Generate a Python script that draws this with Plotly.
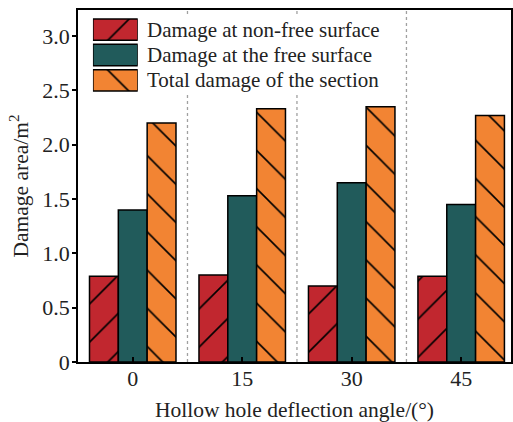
import plotly.graph_objects as go

# ---- data ----
angles = ["0", "15", "30", "45"]
series_names = ["Damage at non-free surface", "Damage at the free surface", "Total damage of the section"]
non_free = [0.79, 0.80, 0.70, 0.79]
free = [1.40, 1.53, 1.65, 1.45]
total = [2.20, 2.33, 2.35, 2.27]
y_tick_vals = [0, 0.5, 1.0, 1.5, 2.0, 2.5, 3.0]
y_tick_text = ["0", "0.5", "1.0", "1.5", "2.0", "2.5", "3.0"]

colors = ["#C1272F", "#215B5B", "#F28433"]
patterns = ["/", "", "\\"]
values = [non_free, free, total]

FONT = "Times New Roman, Liberation Serif, serif"
W, H = 513, 422
L, R, T, B = 78, 0, 10, 60
plot_w = W - L - R
plot_h = H - T - B

def px_x(p):
    return (p - L) / plot_w

def px_y(p):
    return (H - B - p) / plot_h

fig = go.Figure()
for name, vals, c, pat in zip(series_names, values, colors, patterns):
    fig.add_trace(go.Bar(
        x=angles, y=vals, name=name, showlegend=False,
        marker=dict(color=c, line=dict(color="black", width=1.5),
                    pattern=dict(shape=pat, fgcolor="black", fgopacity=1, bgcolor=c, size=27, solidity=0.06)),
    ))

# manual legend keys (large swatches) on an overlay subplot
for i, (c, pat) in enumerate(zip(colors, patterns)):
    fig.add_trace(go.Bar(
        y=[i], x=[1], orientation="h", xaxis="x2", yaxis="y2", showlegend=False,
        width=0.84, offset=-0.42, hoverinfo="skip",
        marker=dict(color=c, line=dict(color="black", width=1.5),
                    pattern=dict(shape=pat, fgcolor="black", fgopacity=1, bgcolor=c, size=27, solidity=0.06)),
    ))

for i, name in enumerate(series_names):
    fig.add_annotation(x=px_x(145), xref="paper", y=i, yref="y2", text=name, showarrow=False,
                       xanchor="left", yanchor="middle", font=dict(family=FONT, size=21, color="#222"))

# dashed separators (gap where the legend background covers them)
leg_bot, leg_top = px_y(95), px_y(14)
dash = dict(color="#a0a0a0", width=1.3, dash="3px,3px")
for xs in [0.5, 1.5]:
    fig.add_shape(type="line", xref="x", yref="paper", x0=xs, x1=xs, y0=0, y1=leg_bot, line=dash, layer="below")
    fig.add_shape(type="line", xref="x", yref="paper", x0=xs, x1=xs, y0=leg_top, y1=1, line=dash, layer="below")
fig.add_shape(type="line", xref="x", yref="paper", x0=2.5, x1=2.5, y0=0, y1=1, line=dash, layer="below")

fig.update_layout(
    width=W, height=H,
    margin=dict(l=L, r=R, t=T, b=B, pad=0),
    paper_bgcolor="white", plot_bgcolor="white",
    barmode="group", bargap=0.21, bargroupgap=0,
    font=dict(family=FONT, size=22, color="#222"),
    xaxis=dict(type="category", range=[-0.5, 3.455], showgrid=False, zeroline=False,
               showline=True, linecolor="black", linewidth=1.8, mirror=True,
               ticks="inside", ticklen=5, tickwidth=1.5, tickcolor="black", ticklabelstandoff=-4,
               tickfont=dict(family=FONT, size=22, color="#222"),
               title=dict(text="Hollow hole deflection angle/(°)", font=dict(family=FONT, size=21.5, color="#222"), standoff=12)),
    yaxis=dict(range=[0, 3.24], tickvals=y_tick_vals, ticktext=y_tick_text, showgrid=False, zeroline=False,
               showline=True, linecolor="black", linewidth=1.5, mirror=True,
               ticks="outside", ticklen=4, tickwidth=1.5, tickcolor="black", ticklabelstandoff=-2,
               tickfont=dict(family=FONT, size=22, color="#222"),
               title=dict(text="Damage area/m<sup>2</sup>", font=dict(family=FONT, size=21.5, color="#222"), standoff=8)),
    xaxis2=dict(domain=[px_x(93), px_x(138)], range=[0, 1], anchor="y2", visible=False, fixedrange=True),
    yaxis2=dict(domain=[px_y(93), px_y(17)], range=[2.5, -0.5], anchor="x2", visible=False, fixedrange=True),
)

fig.write_html("out.html")
